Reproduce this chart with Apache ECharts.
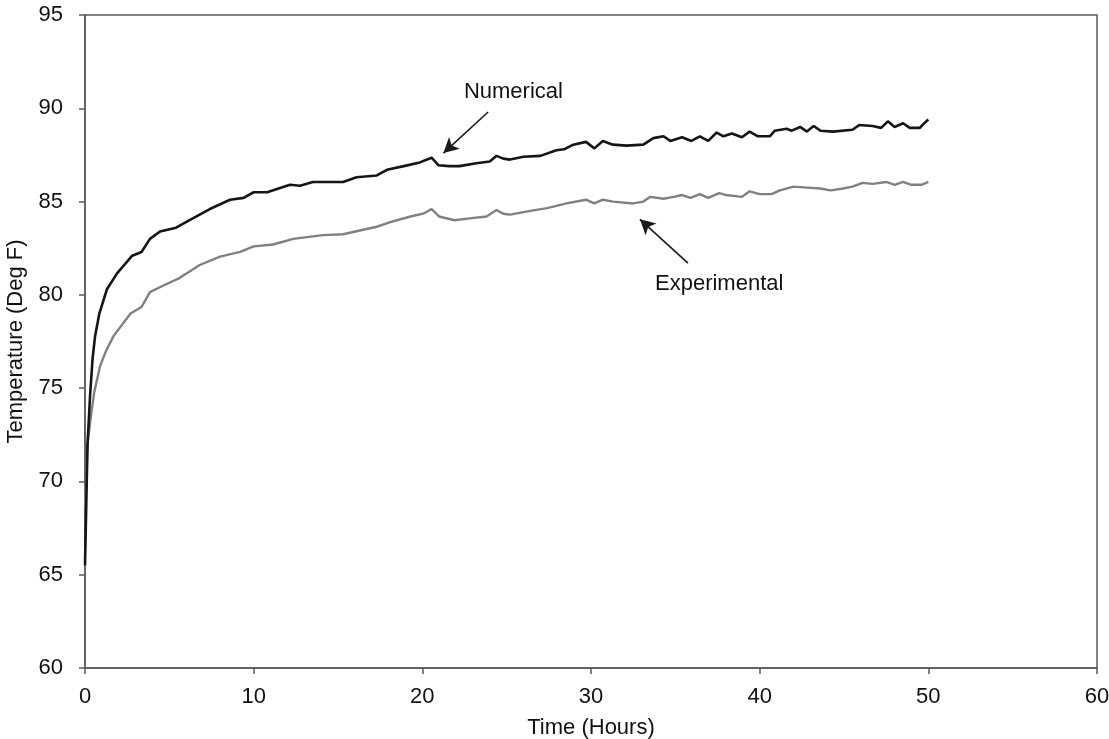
<!DOCTYPE html>
<html>
<head>
<meta charset="utf-8">
<style>
  html, body { margin: 0; padding: 0; background: #ffffff; }
  #chart { width: 1109px; height: 739px; }
</style>
<script src="https://cdn.jsdelivr.net/npm/echarts@6/dist/echarts.min.js"></script>
</head>
<body>
<div id="chart"></div>
<script>
// Time axis (hours) and temperature readings (°F)
const numTime = [0, 0.15, 0.3, 0.45, 0.6, 0.85, 1.3, 1.9, 2.8, 3.35, 3.85, 4.45, 5.4, 6.2, 7.4, 8.6, 9.4, 10.0, 10.8, 12.15, 12.75, 13.5, 15.3, 16.1, 17.3, 17.9, 18.9, 19.85, 20.55, 20.95, 21.6, 22.2, 23.2, 24.0, 24.4, 24.8, 25.2, 26.0, 27.0, 27.95, 28.4, 28.95, 29.7, 30.2, 30.7, 31.3, 32.1, 33.1, 33.7, 34.3, 34.7, 35.4, 35.95, 36.45, 36.95, 37.45, 37.85, 38.35, 38.95, 39.4, 39.9, 40.6, 40.9, 41.6, 41.9, 42.4, 42.8, 43.2, 43.6, 44.35, 45.5, 45.9, 46.7, 47.2, 47.6, 48.0, 48.5, 48.9, 49.5, 49.7, 50.0];
const numTemp = [65.5, 72.0, 74.6, 76.6, 77.8, 79.0, 80.3, 81.15, 82.1, 82.3, 83.0, 83.4, 83.6, 84.0, 84.6, 85.1, 85.2, 85.5, 85.5, 85.9, 85.85, 86.05, 86.05, 86.3, 86.4, 86.7, 86.9, 87.1, 87.35, 86.95, 86.9, 86.9, 87.05, 87.15, 87.45, 87.3, 87.25, 87.4, 87.45, 87.75, 87.8, 88.05, 88.2, 87.85, 88.25, 88.05, 88.0, 88.05, 88.4, 88.5, 88.25, 88.45, 88.25, 88.5, 88.25, 88.7, 88.5, 88.65, 88.45, 88.75, 88.5, 88.5, 88.8, 88.9, 88.8, 89.0, 88.75, 89.05, 88.8, 88.75, 88.85, 89.1, 89.05, 88.95, 89.3, 89.0, 89.2, 88.95, 88.95, 89.15, 89.4];

const expTime = [0, 0.15, 0.35, 0.55, 0.9, 1.25, 1.7, 2.7, 3.35, 3.85, 4.65, 5.6, 6.8, 8.0, 9.2, 10.0, 11.15, 12.35, 14.1, 15.3, 16.3, 17.3, 18.1, 19.3, 20.05, 20.55, 21.0, 21.9, 22.8, 23.8, 24.4, 24.8, 25.2, 26.4, 27.4, 28.55, 29.7, 30.2, 30.7, 31.3, 32.5, 33.1, 33.5, 34.3, 34.9, 35.4, 35.9, 36.45, 36.95, 37.6, 38.0, 38.95, 39.4, 40.0, 40.7, 41.2, 42.0, 42.8, 43.6, 44.2, 44.95, 45.5, 46.1, 46.7, 47.5, 48.0, 48.5, 49.0, 49.6, 50.0];
const expTemp = [68.5, 72.0, 73.5, 74.8, 76.2, 77.0, 77.8, 79.0, 79.35, 80.15, 80.5, 80.9, 81.6, 82.05, 82.3, 82.6, 82.7, 83.0, 83.2, 83.25, 83.45, 83.65, 83.9, 84.2, 84.35, 84.6, 84.2, 84.0, 84.1, 84.2, 84.55, 84.35, 84.3, 84.5, 84.65, 84.9, 85.1, 84.9, 85.1, 85.0, 84.9, 85.0, 85.25, 85.15, 85.25, 85.35, 85.2, 85.4, 85.2, 85.45, 85.35, 85.25, 85.55, 85.4, 85.4, 85.6, 85.8, 85.75, 85.7, 85.6, 85.7, 85.8, 86.0, 85.95, 86.05, 85.9, 86.05, 85.9, 85.9, 86.05];

// Callout arrows: [tail, head] in (hours, °F)
const numArrow = [[23.9, 89.8], [21.25, 87.6]];
const expArrow = [[35.75, 81.7], [32.9, 84.05]];
// Callout text anchors
const numLabelAt = [25.4, 90.9];
const expLabelAt = [37.6, 80.6];

const xTicks = { min: 0, max: 60, interval: 10 };
const yTicks = { min: 60, max: 95, interval: 5 };

const zip = (a, b) => a.map((v, i) => [v, b[i]]);
const font = '"Liberation Sans", Arial, sans-serif';
const axisColor = '#5a5a5a';
const textColor = '#111111';
const textSize = 22;

const arrowLine = (pts) => ({
  silent: true,
  symbol: ['none', 'arrow'],
  symbolSize: [12, 15],
  lineStyle: { color: '#1a1a1a', width: 1.6, type: 'solid' },
  label: { show: false },
  data: [[{ coord: pts[0] }, { coord: pts[1] }]]
});

const calloutText = (at, text) => ({
  silent: true,
  symbol: 'circle',
  symbolSize: 0,
  itemStyle: { color: 'transparent' },
  label: {
    show: true, position: 'inside', formatter: text,
    fontFamily: font, fontSize: textSize, color: textColor
  },
  data: [{ coord: at }]
});

const chart = echarts.init(document.getElementById('chart'), null, { renderer: 'canvas' });
chart.setOption({
  backgroundColor: '#ffffff',
  animation: false,
  grid: {
    left: 85, right: 12, top: 15, bottom: 71,
    containLabel: false, outerBoundsMode: 'none',
    show: true, borderColor: axisColor, borderWidth: 1.5, backgroundColor: 'transparent'
  },
  xAxis: {
    type: 'value', min: xTicks.min, max: xTicks.max, interval: xTicks.interval,
    name: 'Time (Hours)', nameLocation: 'middle', nameGap: 49,
    nameTextStyle: { fontFamily: font, fontSize: textSize, color: textColor },
    axisLine: { show: true, lineStyle: { color: axisColor, width: 1.5 } },
    axisTick: { show: true, inside: false, length: 6, lineStyle: { color: axisColor, width: 1.5 } },
    axisLabel: { margin: 18, fontFamily: font, fontSize: textSize, color: textColor },
    splitLine: { show: false }
  },
  yAxis: {
    type: 'value', min: yTicks.min, max: yTicks.max, interval: yTicks.interval,
    name: 'Temperature (Deg F)', nameLocation: 'middle', nameGap: 58,
    nameTextStyle: { fontFamily: font, fontSize: textSize, color: textColor },
    axisLine: { show: true, lineStyle: { color: axisColor, width: 1.5 } },
    axisTick: { show: true, inside: false, length: 6, lineStyle: { color: axisColor, width: 1.5 } },
    axisLabel: { margin: 22, fontFamily: font, fontSize: textSize, color: textColor },
    splitLine: { show: false }
  },
  series: [
    {
      name: 'Experimental', type: 'line', data: zip(expTime, expTemp),
      showSymbol: false, smooth: false,
      lineStyle: { color: '#808080', width: 2.4 },
      markLine: arrowLine(expArrow),
      markPoint: calloutText(expLabelAt, 'Experimental')
    },
    {
      name: 'Numerical', type: 'line', data: zip(numTime, numTemp),
      showSymbol: false, smooth: false,
      lineStyle: { color: '#151515', width: 2.6 },
      markLine: arrowLine(numArrow),
      markPoint: calloutText(numLabelAt, 'Numerical')
    }
  ]
});
</script>
</body>
</html>
